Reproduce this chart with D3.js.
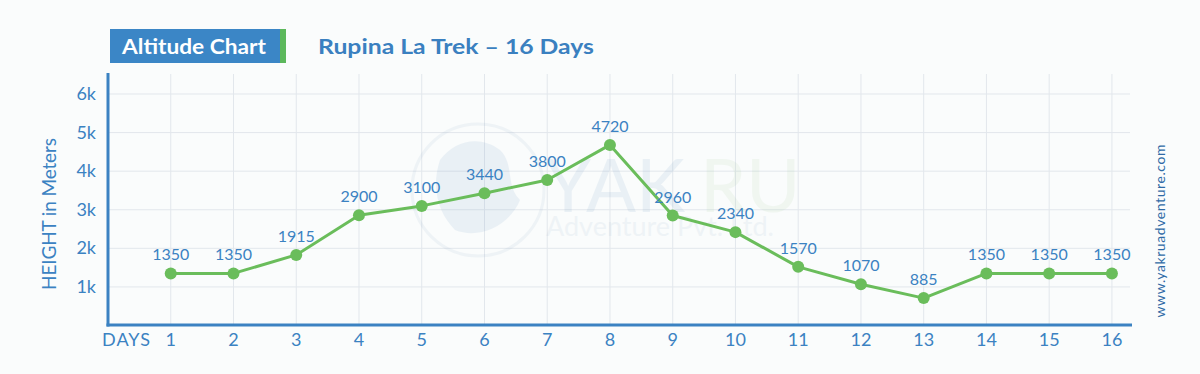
<!DOCTYPE html>
<html>
<head>
<meta charset="utf-8">
<script src="https://cdn.jsdelivr.net/npm/d3@7"></script>
<style>
  html, body { margin: 0; padding: 0; background: #fafcfc; }
  svg { display: block; }
</style>
</head>
<body>
<svg id="chart" width="1200" height="374"></svg>
<script>
// ---- data ----
const days = [1,2,3,4,5,6,7,8,9,10,11,12,13,14,15,16];
const altitudes = [1350,1350,1830,2860,3100,3430,3770,4680,2850,2420,1520,1070,710,1350,1350,1350];
const altitudeLabels = ["1350","1350","1915","2900","3100","3440","3800","4720","2960","2340","1570","1070","885","1350","1350","1350"];
const yTicks = [1000,2000,3000,4000,5000,6000];
const yTickLabels = ["1k","2k","3k","4k","5k","6k"];

const blue = "#3b82c2";
const green = "#6abd5b";
const font = "Lato, 'Open Sans', sans-serif";

const svg = d3.select("#chart");

const x = d3.scaleLinear().domain([0, 16.32]).range([108, 1132]);
const y = d3.scaleLinear().domain([0, 6000]).range([325.5, 94]);

// background
svg.append("rect").attr("width",1200).attr("height",374).attr("fill","#fafcfc");

// grid
const grid = svg.append("g");
grid.selectAll("line.v").data(days).enter().append("line")
  .attr("x1", d => x(d)).attr("x2", d => x(d))
  .attr("y1", 74).attr("y2", 325)
  .attr("stroke", "#e2e7ec").attr("stroke-width", 1);
grid.selectAll("line.h").data(yTicks).enter().append("line")
  .attr("x1", 108).attr("x2", 1130)
  .attr("y1", d => y(d)).attr("y2", d => y(d))
  .attr("stroke", "#e2e7ec").attr("stroke-width", 1);

// watermark
const wm = svg.append("g").attr("opacity", 0.1);
wm.append("circle").attr("cx", 478).attr("cy", 190).attr("r", 66)
  .attr("fill", "none").attr("stroke", "#8aa7c4").attr("stroke-width", 3);
wm.append("path")
  .attr("d", "M440,160 C455,140 480,135 500,150 C515,165 505,185 520,200 C510,225 480,240 455,230 C440,215 430,190 440,160 Z")
  .attr("fill", "#5f8fbf");
wm.append("text").attr("x", 545).attr("y", 212).attr("font-family", font)
  .attr("font-size", 74).attr("fill", "#5f8fbf").text("YAK");
wm.append("text").attr("x", 700).attr("y", 212).attr("font-family", font)
  .attr("font-size", 74).attr("fill", "#9cc98f").text("RU");
wm.append("text").attr("x", 546).attr("y", 236).attr("font-family", font)
  .attr("font-size", 27).attr("fill", "#8aa7c4").text("Adventure Pvt. Ltd.");

// axes lines
svg.append("line").attr("x1", 108).attr("x2", 108).attr("y1", 73).attr("y2", 326.5)
  .attr("stroke", blue).attr("stroke-width", 3);
svg.append("line").attr("x1", 106.5).attr("x2", 1132).attr("y1", 325).attr("y2", 325)
  .attr("stroke", blue).attr("stroke-width", 3);

// x tick labels
svg.append("g").selectAll("text").data(days).enter().append("text")
  .attr("x", d => x(d)).attr("y", 346)
  .attr("text-anchor", "middle").attr("font-family", font).attr("font-size", 18)
  .attr("fill", blue).text(d => d);
svg.append("text").attr("x", 102).attr("y", 346).attr("font-family", font)
  .attr("font-size", 18).attr("fill", blue).attr("textLength", 48).text("DAYS");

// y tick labels
svg.append("g").selectAll("text").data(yTicks).enter().append("text")
  .attr("x", 96).attr("y", d => y(d) + 6)
  .attr("text-anchor", "end").attr("font-family", font).attr("font-size", 18)
  .attr("fill", blue).text((d, i) => yTickLabels[i]);

// y axis title
svg.append("text").attr("transform", "translate(56,214) rotate(-90)")
  .attr("text-anchor", "middle").attr("font-family", font).attr("font-size", 19)
  .attr("fill", blue).attr("textLength", 152).text("HEIGHT in Meters");

// line
const line = d3.line().x((d, i) => x(days[i])).y(d => y(d));
svg.append("path").datum(altitudes).attr("d", line)
  .attr("fill", "none").attr("stroke", green).attr("stroke-width", 3)
  .attr("stroke-linejoin", "round");

// points
svg.append("g").selectAll("circle").data(altitudes).enter().append("circle")
  .attr("cx", (d, i) => x(days[i])).attr("cy", d => y(d)).attr("r", 6)
  .attr("fill", green);

// point labels
svg.append("g").selectAll("text").data(altitudes).enter().append("text")
  .attr("x", (d, i) => x(days[i])).attr("y", d => y(d) - 13)
  .attr("text-anchor", "middle").attr("font-family", font).attr("font-size", 16)
  .attr("fill", blue).text((d, i) => altitudeLabels[i]);

// title box
svg.append("rect").attr("x", 110).attr("y", 29).attr("width", 170).attr("height", 34).attr("fill", "#3b86c6");
svg.append("rect").attr("x", 280).attr("y", 29).attr("width", 6).attr("height", 34).attr("fill", "#5cb85c");
svg.append("text").attr("x", 122).attr("y", 54).attr("font-family", font)
  .attr("font-weight", "bold").attr("font-size", 20).attr("fill", "#ffffff")
  .attr("textLength", 144).attr("lengthAdjust", "spacingAndGlyphs").text("Altitude Chart");
svg.append("text").attr("x", 318).attr("y", 54).attr("font-family", font)
  .attr("font-weight", "bold").attr("font-size", 20).attr("fill", "#3a80c0")
  .attr("textLength", 276).attr("lengthAdjust", "spacingAndGlyphs").text("Rupina La Trek \u2013 16 Days");

// website
svg.append("text").attr("transform", "translate(1165,231) rotate(-90)")
  .attr("text-anchor", "middle").attr("font-family", font).attr("font-size", 14)
  .attr("fill", "#2f6aa6").attr("textLength", 173).text("www.yakruadventure.com");
</script>
</body>
</html>
